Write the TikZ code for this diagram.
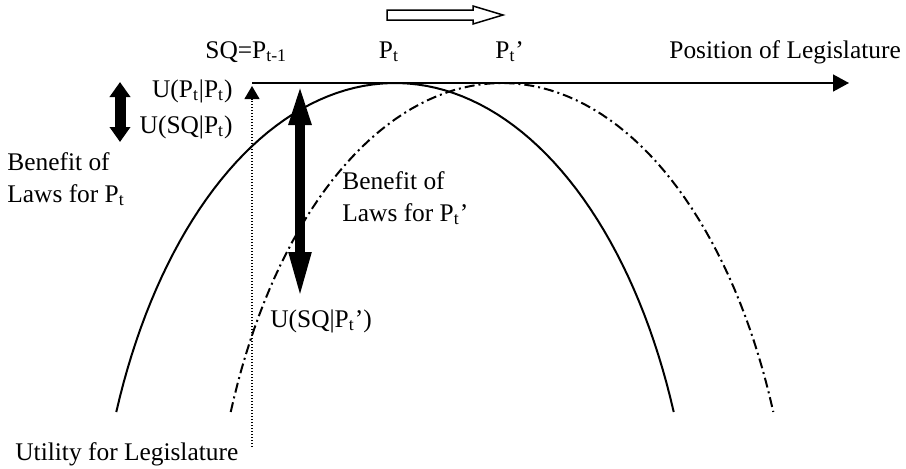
\documentclass[tikz,border=0pt]{standalone}
\usepackage{fontspec}
\setmainfont{Liberation Serif}
\usetikzlibrary{arrows.meta}

\begin{document}
\begin{tikzpicture}[
        x=0.5pt, y=-0.5pt,
        lbl/.style = {inner sep=0pt, font=\fontsize{12.7pt}{16pt}\selectfont},
        axis/.style = {line width=0.75pt, -{Triangle[length=8pt, width=8.5pt]}},
        guide/.style = {line width=0.6pt, dash pattern=on 0.6pt off 0.9pt, -{Triangle[length=6.5pt, width=7.5pt]}},
        bigarrow/.style = {line width=5pt, {Triangle[length=21pt, width=10pt]}-{Triangle[length=24pt, width=10pt]}},
        smallarrow/.style = {line width=5.5pt, {Triangle[length=7.5pt, width=10pt]}-{Triangle[length=7.5pt, width=10pt]}},
        util/.style = {line width=1pt},
        utilnew/.style = {line width=1pt, dash pattern=on 5pt off 2pt on 1pt off 2pt},
    ]
        \useasboundingbox (0,0) rectangle (906,468);
        % shift of the legislature
        \draw[line width=0.75pt] (387,10) -- (473,10) -- (473,6) -- (503,15) -- (473,24) -- (473,20) -- (387,20) -- cycle;
        % labels on the position axis
        \node[lbl, anchor=base west] (sqlbl)    at (205,58) {SQ=P\textsubscript{t-1}};
        \node[lbl, anchor=base]      (ptlbl)    at (389,58) {P\textsubscript{t}};
        \node[lbl, anchor=base west] (ptnewlbl) at (495,58) {P\textsubscript{t}’};
        \node[lbl, anchor=base west] (poslbl)   at (669,58) {Position of Legislature};
        \node[lbl, anchor=base east] (uptlbl)   at (233,97) {U(P\textsubscript{t}|P\textsubscript{t})};
        \node[lbl, anchor=base east] (usqlbl)   at (233,133) {U(SQ|P\textsubscript{t})};
        \node[lbl, anchor=north west, align=left] (benlbl)    at (7,152)   {Benefit of\\Laws for P\textsubscript{t}};
        \node[lbl, anchor=north west, align=left] (bennewlbl) at (342,171) {Benefit of\\Laws for P\textsubscript{t}’};
        \node[lbl, anchor=base west] (usqnewlbl) at (270,327) {U(SQ|P\textsubscript{t}’)};
        \node[lbl, anchor=base west] (utillbl)   at (15,460)  {Utility for Legislature};
        % axes
        \coordinate (origin)  at (252,83);
        \coordinate (axisend) at (849,83);
        \coordinate (utilbot) at (252,447);
        \coordinate (utiltop) at (252,86);
        \draw[axis]  (origin) -- (axisend);
        \draw[guide] (utilbot) -- (utiltop);
        % utility curves
        \draw[util]    plot[domain=158.3:21.7, samples=80, variable=\t] ({395+300*cos(\t)}, {605-522*sin(\t)});
        \draw[utilnew] plot[domain=158.3:21.7, samples=80, variable=\t] ({502+292*cos(\t)}, {605-522*sin(\t)});
        % benefits
        \coordinate (bentop)    at (120,82);
        \coordinate (benbot)    at (120,142);
        \coordinate (bennewtop) at (300,83);
        \coordinate (bennewbot) at (300,300);
        \draw[smallarrow] (bentop) -- (benbot);
        \draw[bigarrow]   (bennewtop) -- (bennewbot);
    \end{tikzpicture}
\end{document}
